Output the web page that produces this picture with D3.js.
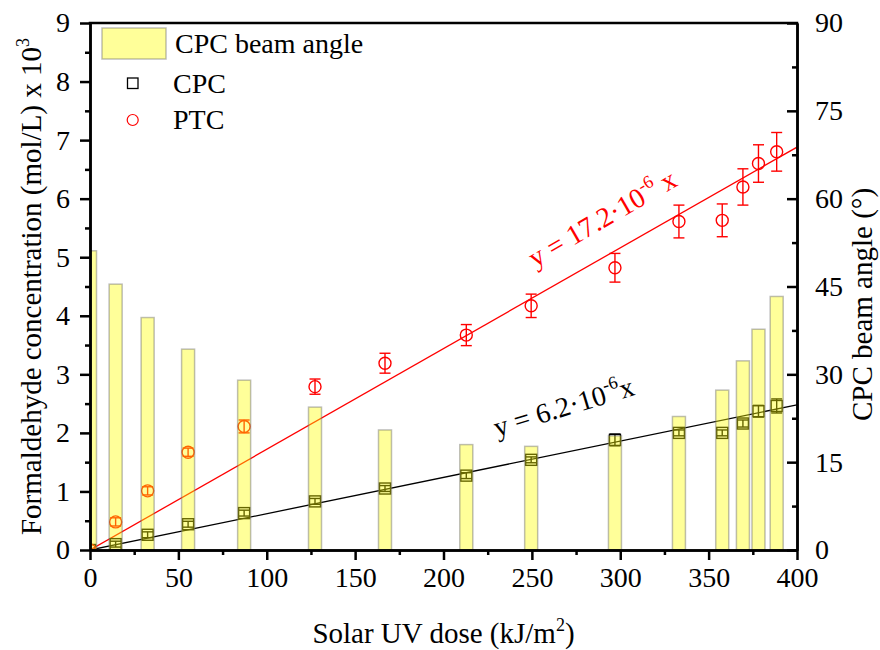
<!DOCTYPE html>
<html>
<head>
<meta charset="utf-8">
<script src="https://cdn.jsdelivr.net/npm/d3@7"></script>
</head>
<body style="margin:0;background:#fff">
<svg id="chart" width="880" height="650" style="display:block"></svg>
<script>
// Solar UV dose at each sampling (kJ/m2)
const dose = [0, 14.5, 32.6, 55.5, 87.2, 127.3, 166.9, 212.9, 249.6, 297.0, 333.2, 357.7, 369.4, 378.2, 388.5];
// CPC beam angle at each sampling (degrees, right axis)
const beamAngle = [51.1, 45.4, 39.7, 34.3, 29.0, 24.4, 20.5, 18.0, 17.7, 19.5, 22.8, 27.3, 32.3, 37.7, 43.3];
// Formaldehyde concentration (mol/L x 10^3) and error half-widths
const cpc    = [0, 0.10, 0.26, 0.44, 0.63, 0.83, 1.05, 1.27, 1.54, 1.88, 2.00, 2.00, 2.16, 2.37, 2.46];
const cpcErr = [0, 0.05, 0.05, 0.05, 0.05, 0.05, 0.05, 0.05, 0.05, 0.10, 0.05, 0.05, 0.06, 0.10, 0.12];
const ptc    = [0, 0.48, 1.01, 1.67, 2.11, 2.79, 3.19, 3.67, 4.17, 4.82, 5.61, 5.63, 6.20, 6.60, 6.80];
const ptcErr = [0, 0.07, 0.07, 0.07, 0.11, 0.13, 0.17, 0.18, 0.20, 0.245, 0.28, 0.28, 0.31, 0.32, 0.33];
// Linear fits through the origin (mol/L per kJ/m2)
const cpcSlope = 6.2e-6;
const ptcSlope = 17.2e-6;
// Tick values
const xTicks = [0, 50, 100, 150, 200, 250, 300, 350, 400];
const yTicks = [0, 1, 2, 3, 4, 5, 6, 7, 8, 9];
const yRTicks = [0, 15, 30, 45, 60, 75, 90];

const FONT = "'Liberation Serif', 'Times New Roman', Times, serif";
const svg = d3.select("#chart").style("font-family", FONT);
const L = 90, R = 797, T = 23, B = 550;

const x = d3.scaleLinear().domain([0, 400]).range([L, R]);
const y = d3.scaleLinear().domain([0, 9]).range([B, T]);
const yR = d3.scaleLinear().domain([0, 90]).range([B, T]);

svg.append("defs").append("clipPath").attr("id", "plotClip")
  .append("rect").attr("x", L).attr("y", T).attr("width", R - L).attr("height", B - T);

const plot = svg.append("g").attr("clip-path", "url(#plotClip)");

// Fit lines
[{ slope: cpcSlope, color: "#000" }, { slope: ptcSlope, color: "#ff0000" }].forEach(f => {
  plot.append("line")
    .attr("x1", x(0)).attr("y1", y(0))
    .attr("x2", x(400)).attr("y2", y(f.slope * 400 * 1e3))
    .attr("stroke", f.color).attr("stroke-width", 1.3);
});

// Error bars and markers
function drawSeries(vals, errs, color, shape) {
  const g = plot.append("g").attr("stroke", color).attr("fill", "none").attr("stroke-width", 1.4);
  vals.forEach((v, i) => {
    const cx = x(dose[i]), e = errs[i];
    if (e > 0) {
      g.append("line").attr("x1", cx).attr("x2", cx).attr("y1", y(v - e)).attr("y2", y(v + e));
      [v - e, v + e].forEach(w => {
        g.append("line").attr("x1", cx - 5.5).attr("x2", cx + 5.5).attr("y1", y(w)).attr("y2", y(w));
      });
    }
    if (shape === "square") {
      g.append("rect").attr("x", cx - 5.5).attr("y", y(v) - 5.5).attr("width", 11).attr("height", 11);
    } else {
      g.append("circle").attr("cx", cx).attr("cy", y(v)).attr("r", 6);
    }
  });
}
drawSeries(cpc, cpcErr, "#000", "square");
drawSeries(ptc, ptcErr, "#ff0000", "circle");

// Beam angle bars (translucent, on top of the markers)
const barW = 13;
plot.append("g").selectAll("rect").data(beamAngle).join("rect")
  .attr("x", (d, i) => x(dose[i]) - barW / 2)
  .attr("y", d => yR(d))
  .attr("width", barW)
  .attr("height", d => yR(0) - yR(d))
  .attr("fill", "rgba(255,255,0,0.4)")
  .attr("stroke", "rgba(110,110,110,0.45)")
  .attr("stroke-width", 1.5);

// Axes
function styleAxis(g) {
  g.attr("font-family", null).attr("font-size", null);
  g.selectAll("path.domain").attr("stroke", "#000").attr("stroke-width", 2.5);
  g.selectAll(".tick line").attr("stroke", "#000").attr("stroke-width", 2.5);
  g.selectAll(".tick text").attr("fill", "#000")
    .style("font-family", FONT).style("font-size", "28px");
}

const minorX = d3.range(25, 400, 50);
const minorY = d3.range(0.5, 9, 1);
const minorYR = d3.range(7.5, 90, 15);

svg.append("g").attr("transform", `translate(0,${B})`)
  .call(d3.axisBottom(x).tickValues(minorX).tickSize(5).tickSizeOuter(0).tickFormat(""))
  .call(styleAxis);
svg.append("g").attr("transform", `translate(0,${B})`)
  .call(d3.axisBottom(x).tickValues(xTicks).tickSize(10).tickSizeOuter(0).tickPadding(7).tickFormat(d3.format("d")))
  .call(styleAxis);

svg.append("g").attr("transform", `translate(${L},0)`)
  .call(d3.axisLeft(y).tickValues(minorY).tickSize(5).tickSizeOuter(0).tickFormat(""))
  .call(styleAxis);
svg.append("g").attr("transform", `translate(${L},0)`)
  .call(d3.axisLeft(y).tickValues(yTicks).tickSize(10).tickSizeOuter(0).tickPadding(10).tickFormat(d3.format("d")))
  .call(styleAxis);

svg.append("g").attr("transform", `translate(${R},0)`)
  .call(d3.axisRight(yR).tickValues(minorYR).tickSizeInner(-5).tickSizeOuter(0).tickFormat(""))
  .call(styleAxis);
svg.append("g").attr("transform", `translate(${R},0)`)
  .call(d3.axisRight(yR).tickValues(yRTicks).tickSizeInner(-10).tickSizeOuter(0).tickPadding(18).tickFormat(d3.format("d")))
  .call(styleAxis);

// Top frame line
svg.append("line").attr("x1", L - 1.25).attr("x2", R + 1.25).attr("y1", T).attr("y2", T)
  .attr("stroke", "#000").attr("stroke-width", 2.5);

function txt(sel) { return sel.style("font-family", FONT); }

// Axis titles
const xt = txt(svg.append("text")).attr("x", (L + R) / 2).attr("y", 643)
  .attr("text-anchor", "middle").style("font-size", "29px").attr("fill", "#000");
xt.append("tspan").text("Solar UV dose (kJ/m");
xt.append("tspan").style("font-size", "18px").attr("dy", -12).text("2");
xt.append("tspan").attr("dy", 12).text(")");

const ylt = txt(svg.append("text")).attr("transform", `translate(41,${(T + B) / 2}) rotate(-90)`)
  .attr("text-anchor", "middle").style("font-size", "29px").attr("fill", "#000");
ylt.append("tspan").text("Formaldehyde concentration (mol/L) x 10");
ylt.append("tspan").style("font-size", "18px").attr("dy", -12).text("3");

txt(svg.append("text")).attr("transform", `translate(872,${(T + B) / 2 + 18}) rotate(-90)`)
  .attr("text-anchor", "middle").style("font-size", "29px").attr("fill", "#000")
  .text("CPC beam angle (°)");

// Fit equations
const eqP = txt(svg.append("text")).attr("transform", "translate(535,268) rotate(-30)")
  .style("font-size", "28px").attr("fill", "#ff0000");
eqP.append("tspan").text("y = 17.2·10");
eqP.append("tspan").style("font-size", "18px").attr("dy", -12).text("-6");
eqP.append("tspan").attr("dy", 12).text(" x");

const eqC = txt(svg.append("text")).attr("transform", "translate(497,437) rotate(-17)")
  .style("font-size", "28px").attr("fill", "#000");
eqC.append("tspan").text("y = 6.2·10");
eqC.append("tspan").style("font-size", "18px").attr("dy", -12).text("-6");
eqC.append("tspan").attr("dy", 12).text("x");

// Legend
const lg = svg.append("g");
lg.append("rect").attr("x", 102).attr("y", 28).attr("width", 64).attr("height", 31)
  .attr("fill", "rgba(255,255,0,0.4)").attr("stroke", "rgba(110,110,110,0.45)").attr("stroke-width", 1.5);
txt(lg.append("text")).attr("x", 175).attr("y", 53).style("font-size", "28px").attr("fill", "#000").text("CPC beam angle");
lg.append("rect").attr("x", 127.5).attr("y", 78).attr("width", 10.5).attr("height", 10.5)
  .attr("fill", "none").attr("stroke", "#000").attr("stroke-width", 1.3);
txt(lg.append("text")).attr("x", 173).attr("y", 93).style("font-size", "28px").attr("fill", "#000").text("CPC");
lg.append("circle").attr("cx", 132.7).attr("cy", 120).attr("r", 5.5)
  .attr("fill", "none").attr("stroke", "#ff0000").attr("stroke-width", 1.2);
txt(lg.append("text")).attr("x", 173).attr("y", 128.5).style("font-size", "28px").attr("fill", "#000").text("PTC");
</script>
</body>
</html>
